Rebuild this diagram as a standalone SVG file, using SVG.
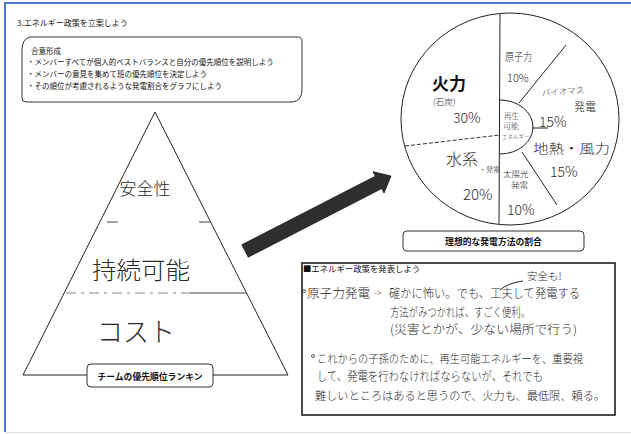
<svg xmlns="http://www.w3.org/2000/svg" width="631" height="434" viewBox="0 0 631 434">
<style>
.t{font-family:"Noto Sans CJK JP","Noto Sans",sans-serif;fill:#111}
.h{font-family:"Noto Sans CJK JP","Noto Sans",sans-serif;fill:#2a2a2a;font-weight:300}
.b{font-family:"Noto Sans CJK JP","Noto Sans",sans-serif;fill:#111;font-weight:bold}
.ln{fill:none;stroke:#222;stroke-width:1}
.box{fill:#fff;stroke:#333;stroke-width:1}
</style>
<rect x="0" y="0" width="631" height="434" fill="#fff"/>
<g id="frame">
<line x1="4" y1="3" x2="631" y2="3" stroke="#4f7fc6" stroke-width="2"/>
<line x1="5" y1="3" x2="5" y2="432" stroke="#4f7fc6" stroke-width="2"/>
<line x1="6" y1="432.5" x2="631" y2="432.5" stroke="#e2e2e2" stroke-width="1"/>
</g>
<g id="title">
<text class="t" x="17" y="26" font-size="8">3.エネルギー政策を立案しよう</text>
</g>
<g id="instructions">
<path class="box" d="M30,37 L298,37 Q302,37 302,42 L302,90 Q302,101 292,102 L26,102 Q22,102 22,98 L22,50 Q22,39 30,37 Z"/>
<text class="t" x="31" y="54" font-size="7.5">合意形成</text>
<text class="t" x="27" y="65" font-size="7.5">・メンバーすべてが個人的ベストバランスと自分の優先順位を説明しよう</text>
<text class="t" x="27" y="77" font-size="7.5">・メンバーの意見を集めて班の優先順位を決定しよう</text>
<text class="t" x="27" y="89" font-size="7.5">・その順位が考慮されるような発電割合をグラフにしよう</text>
</g>
<g id="pyramid">
<polygon class="ln" points="155,112 23,375 288,375"/>
<line x1="107" y1="222" x2="118" y2="222" stroke="#444" stroke-width="1"/>
<line x1="199" y1="222" x2="210" y2="222" stroke="#444" stroke-width="1"/>
<line x1="66" y1="293" x2="190" y2="293" stroke="#888" stroke-width="1" stroke-dasharray="10 5 3 5"/>
<line x1="190" y1="293" x2="246" y2="293" stroke="#444" stroke-width="1"/>
<text class="h" x="145" y="195" font-size="17" text-anchor="middle" fill="#555">安全性</text>
<text class="h" x="92" y="279" font-size="24" textLength="98" lengthAdjust="spacingAndGlyphs">持続可能</text>
<text class="h" x="97" y="342" font-size="27" textLength="78" lengthAdjust="spacingAndGlyphs">コスト</text>
</g>
<g id="pyramid-label">
<rect class="box" x="87" y="364" width="126" height="23" rx="4"/>
<text class="b" x="150" y="379.5" font-size="8.8" text-anchor="middle">チームの優先順位ランキン</text>
</g>
<g id="connectors">
<polygon points="248.2,257.2 241.8,244.8 375.3,176.2 373.0,171.7 391,176 384.0,193.1 381.7,188.6" fill="#2e2e2e" stroke="#1a1a1a" stroke-width="0.8"/>
</g>
<g id="pie">
<ellipse class="ln" cx="510" cy="119" rx="109" ry="106"/>
<line class="ln" x1="500" y1="14" x2="499" y2="224"/>
<line x1="405" y1="146" x2="500" y2="135" stroke="#333" stroke-width="1" stroke-dasharray="4 2"/>
<path class="ln" d="M500,100 A33,27 0 0 1 500,154"/>
<line class="ln" x1="519" y1="103" x2="566" y2="45"/>
<line class="ln" x1="532" y1="128" x2="548" y2="128"/>
<line class="ln" x1="522" y1="152" x2="557" y2="205"/>
<text class="h" x="505" y="61" font-size="11" textLength="27" lengthAdjust="spacingAndGlyphs">原子力</text>
<text class="h" x="507" y="82" font-size="11">10%</text>
<text class="b" x="432" y="90" font-size="17">火力</text>
<text class="h" x="433" y="105" font-size="8.5">(石炭)</text>
<text class="h" x="453" y="123" font-size="14">30%</text>
<text class="h" x="504" y="118.5" font-size="7.5">再生</text>
<text class="h" x="503" y="129" font-size="8">可能</text>
<text class="h" x="502" y="139" font-size="5.5">エネルギー</text>
<text class="h" x="542" y="96" font-size="8.5" transform="rotate(-4 542 96)">バイオマス</text>
<text class="h" x="574" y="111" font-size="11">発電</text>
<text class="h" x="539" y="127" font-size="14">15%</text>
<text class="h" x="533" y="153" font-size="13" textLength="77" lengthAdjust="spacingAndGlyphs">地熱・風力</text>
<text class="h" x="550" y="177" font-size="14">15%</text>
<text class="h" x="446" y="165" font-size="16">水系</text>
<text class="h" x="479" y="172" font-size="7">・発電</text>
<text class="h" x="503" y="177" font-size="8.5">太陽光</text>
<text class="h" x="511" y="188" font-size="8.5">発電</text>
<text class="h" x="463" y="200" font-size="15">20%</text>
<text class="h" x="507" y="215" font-size="14">10%</text>
</g>
<g id="pie-label">
<rect class="box" x="403" y="231" width="181" height="20" rx="4"/>
<text class="b" x="493.5" y="244.5" font-size="8.8" text-anchor="middle">理想的な発電方法の割合</text>
</g>
<g id="presentation">
<rect x="302" y="263" width="313" height="152" fill="#fff" stroke="#111" stroke-width="1.5"/>
<text class="t" x="303" y="271.5" font-size="8.4">■エネルギー政策を発表しよう</text>
<path class="ln" d="M500,290 Q508,283 523,281"/>
<text class="h" x="527" y="279.5" font-size="10.5">安全も!</text>
<circle cx="304" cy="291" r="1.5" fill="none" stroke="#333" stroke-width="0.8"/>
<text class="h" x="307" y="298" font-size="12.5" textLength="63" lengthAdjust="spacingAndGlyphs">原子力発電</text>
<text class="h" x="374" y="296" font-size="9">-&gt;</text>
<text class="h" x="389" y="298" font-size="12.5" textLength="191" lengthAdjust="spacingAndGlyphs">確かに怖い。でも、工夫して発電する</text>
<text class="h" x="390" y="317" font-size="12.5" textLength="140" lengthAdjust="spacingAndGlyphs">方法がみつかれば、すごく便利。</text>
<text class="h" x="390" y="334" font-size="12.4" textLength="187" lengthAdjust="spacingAndGlyphs">(災害とかが、少ない場所で行う)</text>
<circle cx="313" cy="356" r="1.5" fill="none" stroke="#333" stroke-width="0.8"/>
<text class="h" x="317" y="363" font-size="11.4" textLength="266" lengthAdjust="spacingAndGlyphs">これからの子孫のために、再生可能エネルギーを、重要視</text>
<text class="h" x="317" y="381" font-size="12.5" textLength="226" lengthAdjust="spacingAndGlyphs">して、発電を行わなければならないが、それでも</text>
<text class="h" x="315" y="400" font-size="11.9" textLength="290" lengthAdjust="spacingAndGlyphs">難しいところはあると思うので、火力も、最低限、頼る。</text>
</g>
</svg>
